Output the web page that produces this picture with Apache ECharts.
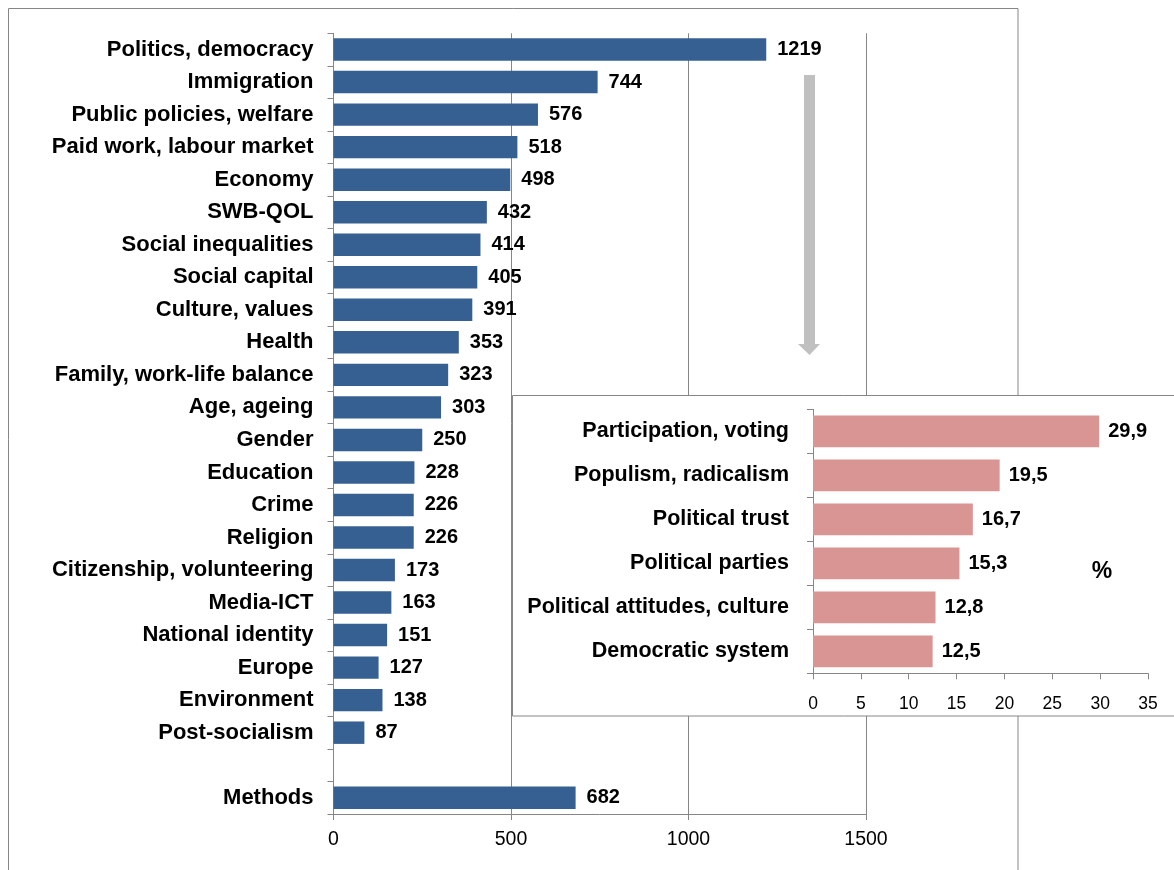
<!DOCTYPE html>
<html>
<head>
<meta charset="utf-8">
<script src="https://cdn.jsdelivr.net/npm/echarts@6/dist/echarts.min.js"></script>
<style>
  html, body { margin: 0; padding: 0; background: #fff; }
  #chart { width: 1174px; height: 870px; }
</style>
</head>
<body>
<div id="chart"></div>
<script>
// main chart: number of articles per topic
const topics = ['Politics, democracy', 'Immigration', 'Public policies, welfare', 'Paid work, labour market',
  'Economy', 'SWB-QOL', 'Social inequalities', 'Social capital', 'Culture, values', 'Health',
  'Family, work-life balance', 'Age, ageing', 'Gender', 'Education', 'Crime', 'Religion',
  'Citizenship, volunteering', 'Media-ICT', 'National identity', 'Europe', 'Environment',
  'Post-socialism', '', 'Methods'];
const topicCounts = [1219, 744, 576, 518, 498, 432, 414, 405, 391, 353, 323, 303, 250, 228, 226, 226,
  173, 163, 151, 127, 138, 87, null, 682];
const countTicks = [0, 500, 1000, 1500];

// inset: breakdown of politics, %
const politicsTopics = ['Participation, voting', 'Populism, radicalism', 'Political trust',
  'Political parties', 'Political attitudes, culture', 'Democratic system'];
const politicsShares = [29.9, 19.5, 16.7, 15.3, 12.8, 12.5];
const shareTicks = [0, 5, 10, 15, 20, 25, 30, 35];

const FONT = '"Liberation Sans", Arial, sans-serif';
const GREY = '#868686';

const chart = echarts.init(document.getElementById('chart'));

const option = {
  animation: false,
  textStyle: { fontFamily: FONT },
  grid: [
    { left: 333.5, top: 33.3, width: 532.5, height: 780.7 },
    { left: 813, top: 409.3, width: 335, height: 264, z: 12 }
  ],
  xAxis: [
    {
      gridIndex: 0,
      type: 'value',
      min: countTicks[0],
      max: countTicks[countTicks.length - 1],
      interval: countTicks[1] - countTicks[0],
      axisLine: { show: true, lineStyle: { color: GREY } },
      axisTick: { show: true, length: 6, lineStyle: { color: GREY } },
      splitLine: { show: true, lineStyle: { color: GREY, width: 1 } },
      axisLabel: { color: '#000', fontSize: 19.5, margin: 16, fontFamily: FONT, formatter: v => String(v) }
    },
    {
      gridIndex: 1,
      type: 'value',
      z: 12,
      min: shareTicks[0],
      max: shareTicks[shareTicks.length - 1],
      interval: shareTicks[1] - shareTicks[0],
      axisLine: { show: true, lineStyle: { color: GREY } },
      axisTick: { show: true, length: 6, lineStyle: { color: GREY } },
      splitLine: { show: false },
      axisLabel: { color: '#000', fontSize: 17.5, margin: 22, fontFamily: FONT, formatter: v => String(v) }
    }
  ],
  yAxis: [
    {
      gridIndex: 0,
      type: 'category',
      inverse: true,
      data: topics,
      axisLine: { show: true, lineStyle: { color: GREY } },
      axisTick: { show: true, length: 6, lineStyle: { color: GREY } },
      axisLabel: { color: '#000', fontSize: 22, fontWeight: 'bold', margin: 20, fontFamily: FONT }
    },
    {
      gridIndex: 1,
      type: 'category',
      z: 12,
      inverse: true,
      data: politicsTopics,
      axisLine: { show: true, lineStyle: { color: GREY } },
      axisTick: { show: true, length: 6, lineStyle: { color: GREY } },
      axisLabel: { color: '#000', fontSize: 21.5, fontWeight: 'bold', margin: 24, fontFamily: FONT }
    }
  ],
  series: [
    {
      type: 'bar',
      xAxisIndex: 0,
      yAxisIndex: 0,
      data: topicCounts,
      barWidth: '69%',
      itemStyle: { color: '#376092' },
      label: {
        show: true,
        position: 'right',
        distance: 11,
        color: '#000',
        fontSize: 20,
        fontWeight: 'bold',
        fontFamily: FONT
      }
    },
    {
      type: 'bar',
      xAxisIndex: 1,
      yAxisIndex: 1,
      z: 13,
      data: politicsShares,
      barWidth: '72%',
      itemStyle: { color: '#d99594' },
      label: {
        show: true,
        position: 'right',
        distance: 9,
        color: '#000',
        fontSize: 20,
        fontWeight: 'bold',
        fontFamily: FONT,
        formatter: p => String(p.value).replace('.', ',')
      }
    }
  ],
  graphic: [
    // outer chart frame
    {
      type: 'rect', z: -1, silent: true,
      shape: { x: 8.5, y: 8.5, width: 1009.5, height: 900 },
      style: { fill: 'none', stroke: GREY, lineWidth: 1 }
    },
    // arrow from politics bar down to the inset
    {
      type: 'rect', z: 5, silent: true,
      shape: { x: 804, y: 75, width: 11, height: 270 },
      style: { fill: '#c0c0c0' }
    },
    {
      type: 'polygon', z: 5, silent: true,
      shape: { points: [[798, 344], [820, 344], [809.5, 355]] },
      style: { fill: '#c0c0c0' }
    },
    // inset panel
    {
      type: 'rect', z: 10, silent: true,
      shape: { x: 512.5, y: 395.5, width: 700, height: 320.5 },
      style: { fill: '#fff', stroke: GREY, lineWidth: 1 }
    },
    {
      type: 'text', z: 14, silent: true,
      x: 1102, y: 572,
      style: {
        text: '%', fill: '#000', font: 'bold 23px ' + FONT,
        align: 'center', verticalAlign: 'middle'
      }
    }
  ]
};

chart.setOption(option);
</script>
</body>
</html>
